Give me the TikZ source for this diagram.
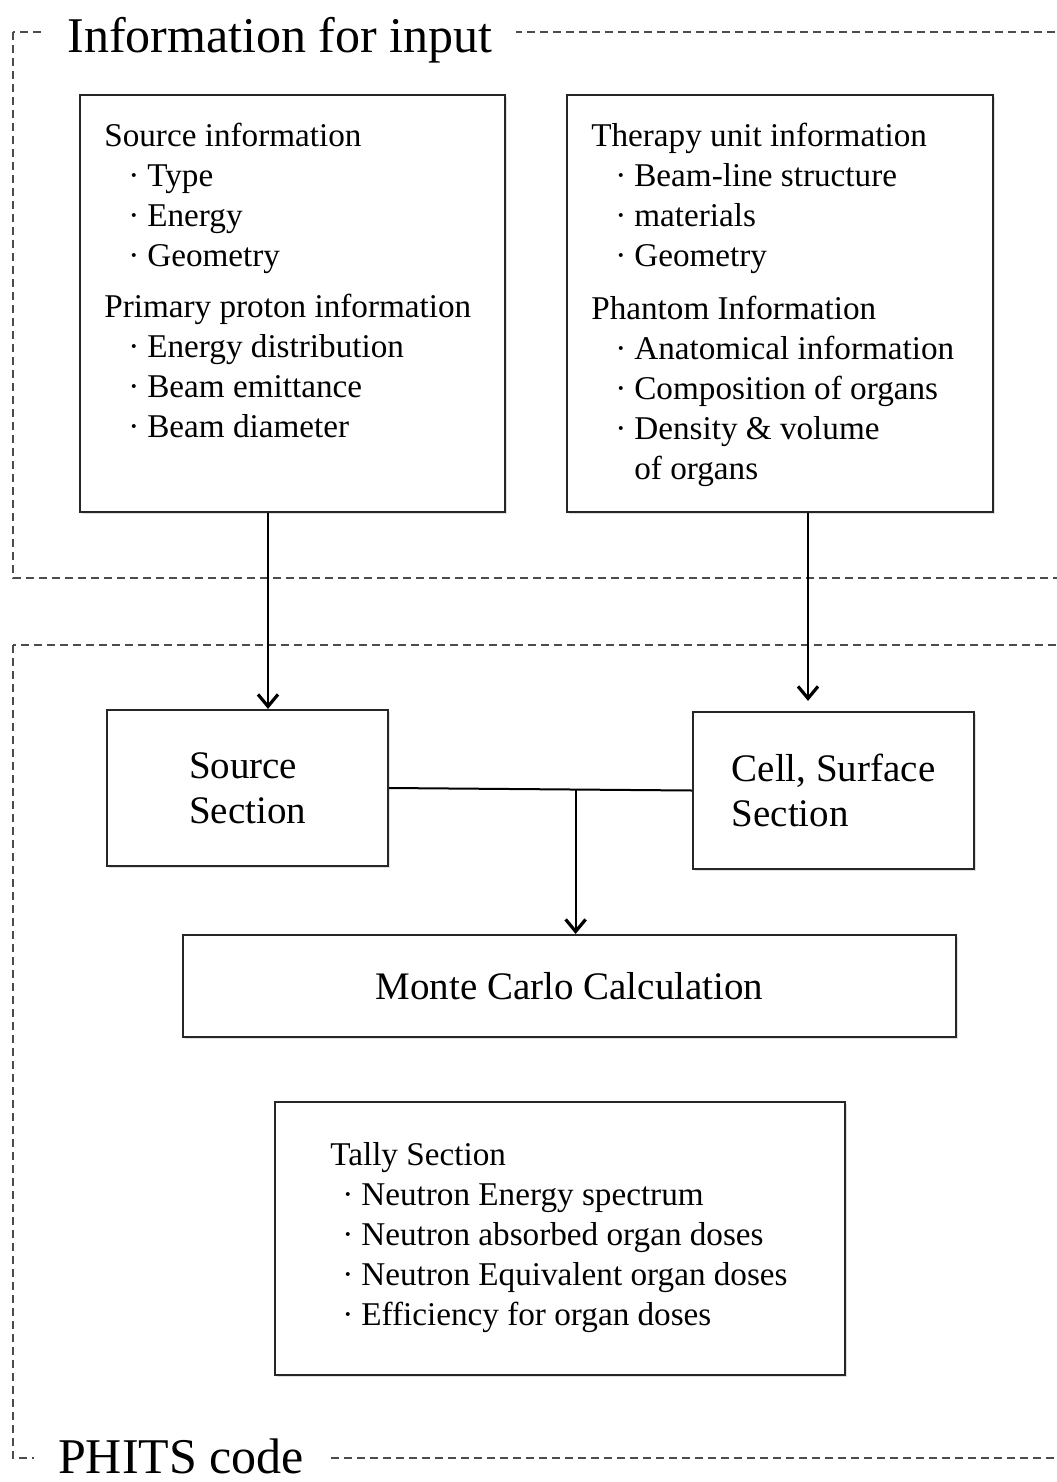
\documentclass[tikz,border=0pt]{standalone}
\usepackage{fontspec}
\setmainfont{Liberation Serif}
\usetikzlibrary{arrows.meta, shadows}

\newcommand{\bul}[1][12pt]{\hspace*{#1}·\hspace{4pt}}

\begin{document}
\begin{tikzpicture}[x=0.5pt, y=-0.5pt, >={Straight Barb[length=6pt,width=10pt,line width=1.6pt]},
  frame/.style={draw=black!70, line width=0.75pt, dash pattern=on 4pt off 2.5pt},
  frametitle/.style={fill=white, inner xsep=12pt, inner ysep=0pt, font=\fontsize{25}{28}\selectfont},
  box/.style={draw=black!85, line width=1.1pt, fill=white, drop shadow={shadow xshift=1pt, shadow yshift=-1pt, opacity=0.25}},
  boxtext/.style={anchor=north west, align=left, inner sep=0pt, font=\fontsize{16.6}{20}\selectfont},
  sectext/.style={align=left, font=\fontsize{19.5}{22.5}\selectfont},
  link/.style={line width=1pt}]
\useasboundingbox (0,0) rectangle (1056,1482);

% dashed frames
\draw[frame] (13,32) rectangle (1080,578);
\draw[frame] (13,645) rectangle (1080,1458);
\node[frametitle] (inputtitle) at (280,40) {Information for input};
\node[frametitle] (phitstitle) at (181,1456) {PHITS code};

% input boxes
\node[box, minimum width=212.5pt, minimum height=208.5pt] (srcinfo) at (292.5,303.5) {};
\node[box, minimum width=213pt, minimum height=208.5pt] (unitinfo) at (780,303.5) {};
\node[boxtext] (srcinfotxt) at ([xshift=12.5pt, yshift=-14.5pt]srcinfo.north west) {Source information\\
  \bul Type\\
  \bul Energy\\
  \bul Geometry\\[5.5pt]
  Primary proton information\\
  \bul Energy distribution\\
  \bul Beam emittance\\
  \bul Beam diameter};
\node[boxtext] (unitinfotxt) at ([xshift=12.5pt, yshift=-14.5pt]unitinfo.north west) {Therapy unit information\\
  \bul Beam-line structure\\
  \bul materials\\
  \bul Geometry\\[6.5pt]
  Phantom Information\\
  \bul Anatomical information\\
  \bul Composition of organs\\
  \bul Density \& volume\\
  \hspace*{12pt}\phantom{·}\hspace{4pt}of organs};

% PHITS boxes
\node[box, sectext, minimum width=140.5pt, minimum height=78pt] (srcsec) at (247.5,788) {Source\\Section};
\node[box, sectext, minimum width=140.5pt, minimum height=78.5pt] (cellsec) at (833.5,790.5) {Cell, Surface\\Section};
\node[box, minimum width=386.5pt, minimum height=51pt, font=\fontsize{19.5}{22.5}\selectfont] (mc) at (569.5,986) {Monte Carlo Calculation};
\node[box, minimum width=285pt, minimum height=136.5pt] (tally) at (560,1238.5) {};
\node[boxtext] (tallytxt) at ([xshift=28pt, yshift=-20.5pt]tally.north west) {Tally Section\\
  \bul[6pt]Neutron Energy spectrum\\
  \bul[6pt]Neutron absorbed organ doses\\
  \bul[6pt]Neutron Equivalent organ doses\\
  \bul[6pt]Efficiency for organ doses};

% connectors
\coordinate (srcdrop) at ([xshift=-12.25pt]srcinfo.south);
\coordinate (unitdrop) at ([xshift=14pt]unitinfo.south);
\draw[->, link] (srcdrop) -- (srcdrop |- srcsec.north);
\draw[->, link, shorten >=5pt] (unitdrop) -- (unitdrop |- cellsec.north);
\draw[link] (srcsec.east) -- coordinate[pos=0.616] (join) (cellsec.west);
\draw[->, link] (join) -- (join |- mc.north);
\end{tikzpicture}
\end{document}
